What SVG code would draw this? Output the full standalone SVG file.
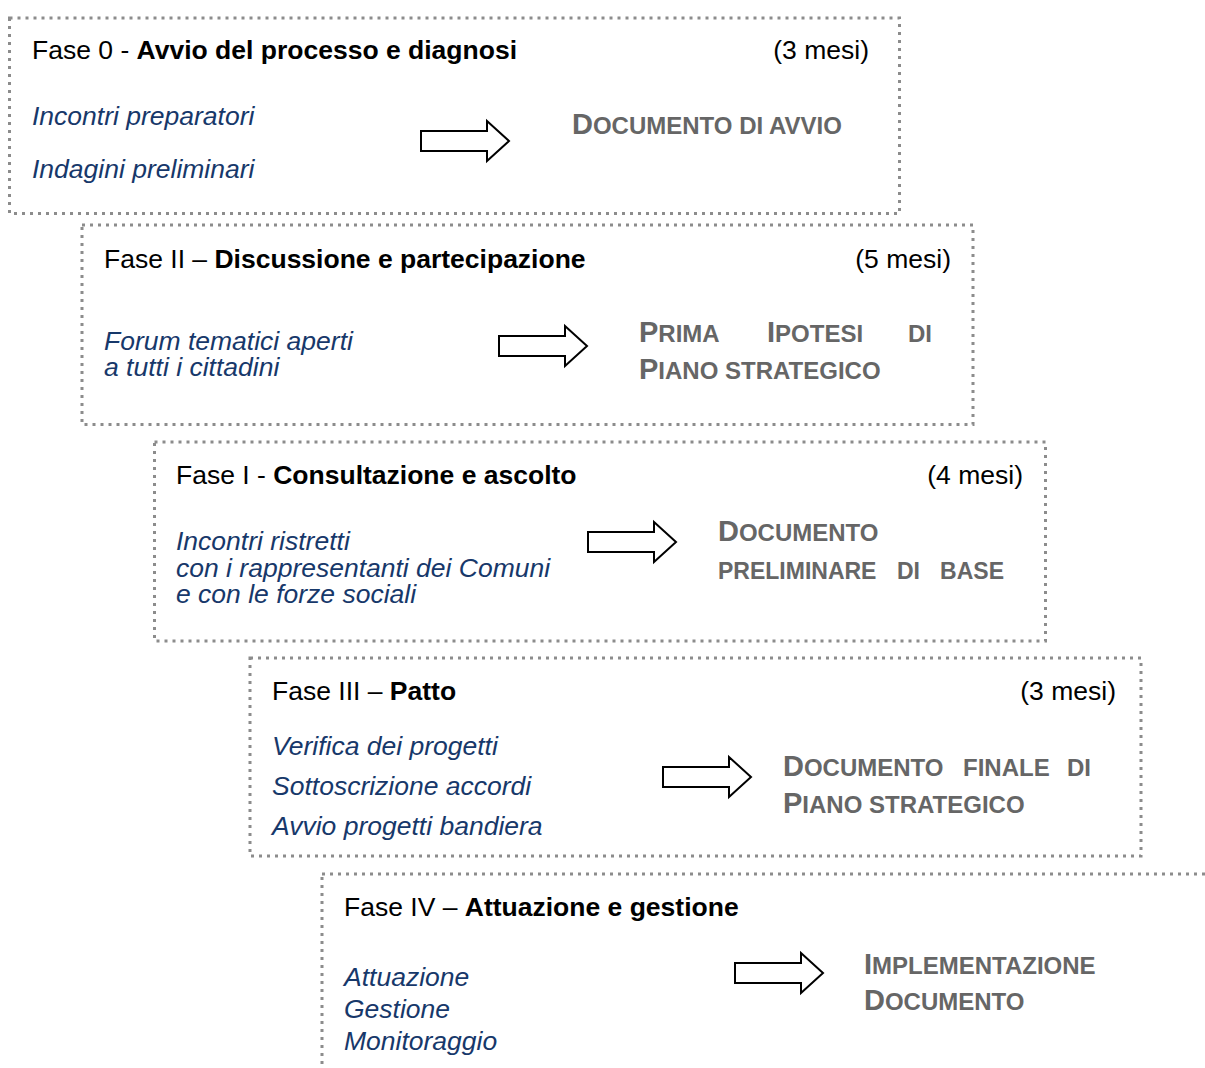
<svg xmlns="http://www.w3.org/2000/svg" width="1205" height="1068" viewBox="0 0 1205 1068">
<style>
.box{fill:none;stroke:#8c8c8c;stroke-width:3;stroke-dasharray:3 5}
.t{font-family:"Liberation Sans",Arial,sans-serif;font-size:26.5px;fill:#000}
.b{font-weight:bold}
.i{font-family:"Liberation Sans",Arial,sans-serif;font-size:26.5px;font-style:italic;fill:#17386a}
.d{font-family:"Liberation Sans",Arial,sans-serif;font-size:24px;font-weight:bold;fill:#666}
.s{font-size:23px}
.D{font-size:29px}
.arr{fill:#fff;stroke:#000;stroke-width:2;stroke-linejoin:miter}
</style>
<rect width="1205" height="1068" fill="#fff"/>
<g id="fase0">
<rect class="box" x="9.5" y="18" width="890" height="195.5"/>
<text class="t" x="32" y="59"><tspan>Fase 0 - </tspan><tspan class="b">Avvio del processo e diagnosi</tspan></text>
<text class="t" x="869" y="59" text-anchor="end">(3 mesi)</text>
<text class="i" x="32" y="125">Incontri preparatori</text>
<text class="i" x="32" y="178">Indagini preliminari</text>
<text class="d" x="572" y="134"><tspan class="D">D</tspan>OCUMENTO DI AVVIO</text>
</g>
<g id="fase2">
<rect class="box" x="82" y="225" width="891" height="199.5"/>
<text class="t" x="104" y="268"><tspan>Fase II – </tspan><tspan class="b">Discussione e partecipazione</tspan></text>
<text class="t" x="951" y="268" text-anchor="end">(5 mesi)</text>
<text class="i" x="104" y="350">Forum tematici aperti</text>
<text class="i" x="104" y="376">a tutti i cittadini</text>
<text class="d" x="639" y="342"><tspan class="D">P</tspan>RIMA</text>
<text class="d" x="767" y="342"><tspan class="D">I</tspan>POTESI</text>
<text class="d" x="932" y="342" text-anchor="end">DI</text>
<text class="d" x="639" y="379"><tspan class="D">P</tspan>IANO STRATEGICO</text>
</g>
<g id="fase1">
<rect class="box" x="154.5" y="442" width="891" height="199"/>
<text class="t" x="176" y="484"><tspan>Fase I - </tspan><tspan class="b">Consultazione e ascolto</tspan></text>
<text class="t" x="1023" y="484" text-anchor="end">(4 mesi)</text>
<text class="i" x="176" y="550">Incontri ristretti</text>
<text class="i" x="176" y="577">con i rappresentanti dei Comuni</text>
<text class="i" x="176" y="603">e con le forze sociali</text>
<text class="d" x="718" y="541"><tspan class="D">D</tspan>OCUMENTO</text>
<text class="d s" x="718" y="579">PRELIMINARE</text>
<text class="d s" x="897" y="579">DI</text>
<text class="d s" x="1004" y="579" text-anchor="end">BASE</text>
</g>
<g id="fase3">
<rect class="box" x="250" y="658" width="891" height="198"/>
<text class="t" x="272" y="700"><tspan>Fase III – </tspan><tspan class="b">Patto</tspan></text>
<text class="t" x="1116" y="700" text-anchor="end">(3 mesi)</text>
<text class="i" x="272" y="755">Verifica dei progetti</text>
<text class="i" x="272" y="795">Sottoscrizione accordi</text>
<text class="i" x="272" y="835">Avvio progetti bandiera</text>
<text class="d" x="783" y="776"><tspan class="D">D</tspan>OCUMENTO</text>
<text class="d" x="963" y="776">FINALE</text>
<text class="d" x="1091" y="776" text-anchor="end">DI</text>
<text class="d" x="783" y="813"><tspan class="D">P</tspan>IANO STRATEGICO</text>
</g>
<g id="fase4">
<rect class="box" x="322" y="874" width="891" height="200"/>
<text class="t" x="344" y="916"><tspan>Fase IV – </tspan><tspan class="b">Attuazione e gestione</tspan></text>
<text class="i" x="344" y="986">Attuazione</text>
<text class="i" x="344" y="1018">Gestione</text>
<text class="i" x="344" y="1050">Monitoraggio</text>
<text class="d" x="864" y="974"><tspan class="D">I</tspan>MPLEMENTAZIONE</text>
<text class="d" x="864" y="1010"><tspan class="D">D</tspan>OCUMENTO</text>
</g>
<g id="connectors">
<polygon class="arr" points="421,131 487,131 487,121 509,141 487,161 487,151 421,151"/>
<polygon class="arr" points="499,336 565,336 565,326 587,346 565,366 565,356 499,356"/>
<polygon class="arr" points="588,532 654,532 654,522 676,542 654,562 654,552 588,552"/>
<polygon class="arr" points="663,767 729,767 729,757 751,777 729,797 729,787 663,787"/>
<polygon class="arr" points="735,963 801,963 801,953 823,973 801,993 801,983 735,983"/>
</g>
</svg>
